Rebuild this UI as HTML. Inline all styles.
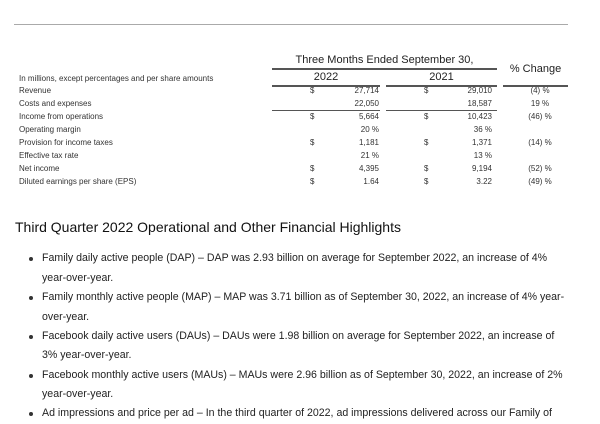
<!DOCTYPE html>
<html><head><meta charset="utf-8"><style>
*{margin:0;padding:0}
body{width:600px;height:414px;overflow:hidden;background:#fff;font-family:"Liberation Sans",sans-serif;color:#222;position:relative}
.a{position:absolute;white-space:nowrap}
.s{font-size:8px;color:#333}
.r{text-align:right}
.c{text-align:center}
.ln{position:absolute;height:1px;background:#555}
.b{position:absolute;left:42px;font-size:10.6px;line-height:19.5px;color:#222;white-space:nowrap}
.d{position:absolute;left:29px;width:4px;height:4px;border-radius:50%;background:#333}
</style></head><body>
<div class="ln" style="left:14px;top:24px;width:554px;background:#aaa"></div>
<div class="a c" style="left:272px;width:225px;top:54px;font-size:11px">Three Months Ended September 30,</div>
<div class="ln" style="left:272px;top:68px;width:225px;height:1.5px"></div>
<div class="a c" style="left:503px;width:65px;top:63px;font-size:11px">% Change</div>
<div class="a c" style="left:272px;width:108px;top:71px;font-size:11px">2022</div>
<div class="a c" style="left:386px;width:111px;top:71px;font-size:11px">2021</div>
<div class="ln" style="left:272px;top:85px;width:108px;height:1.5px"></div>
<div class="ln" style="left:386px;top:85px;width:111px;height:1.5px"></div>
<div class="ln" style="left:503px;top:85px;width:65px;height:1.5px"></div>
<div class="a s" style="left:19px;top:74px">In millions, except percentages and per share amounts</div>
<div class="ln" style="left:272px;top:110px;width:108px"></div>
<div class="ln" style="left:386px;top:110px;width:111px"></div>
<div id="rows"></div>
<div class="a s" style="left:19px;top:86px">Revenue</div><div class="a s" style="left:310px;top:86px">$</div><div class="a s r" style="left:320px;width:59px;top:86px">27,714</div><div class="a s" style="left:424px;top:86px">$</div><div class="a s r" style="left:430px;width:62px;top:86px">29,010</div><div class="a s c" style="left:510px;width:60px;top:86px">(4) %</div>
<div class="a s" style="left:19px;top:99px">Costs and expenses</div><div class="a s r" style="left:320px;width:59px;top:99px">22,050</div><div class="a s r" style="left:430px;width:62px;top:99px">18,587</div><div class="a s c" style="left:510px;width:60px;top:99px">19 %</div>
<div class="a s" style="left:19px;top:112px">Income from operations</div><div class="a s" style="left:310px;top:112px">$</div><div class="a s r" style="left:320px;width:59px;top:112px">5,664</div><div class="a s" style="left:424px;top:112px">$</div><div class="a s r" style="left:430px;width:62px;top:112px">10,423</div><div class="a s c" style="left:510px;width:60px;top:112px">(46) %</div>
<div class="a s" style="left:19px;top:125px">Operating margin</div><div class="a s r" style="left:320px;width:59px;top:125px">20 %</div><div class="a s r" style="left:430px;width:62px;top:125px">36 %</div>
<div class="a s" style="left:19px;top:138px">Provision for income taxes</div><div class="a s" style="left:310px;top:138px">$</div><div class="a s r" style="left:320px;width:59px;top:138px">1,181</div><div class="a s" style="left:424px;top:138px">$</div><div class="a s r" style="left:430px;width:62px;top:138px">1,371</div><div class="a s c" style="left:510px;width:60px;top:138px">(14) %</div>
<div class="a s" style="left:19px;top:151px">Effective tax rate</div><div class="a s r" style="left:320px;width:59px;top:151px">21 %</div><div class="a s r" style="left:430px;width:62px;top:151px">13 %</div>
<div class="a s" style="left:19px;top:164px">Net income</div><div class="a s" style="left:310px;top:164px">$</div><div class="a s r" style="left:320px;width:59px;top:164px">4,395</div><div class="a s" style="left:424px;top:164px">$</div><div class="a s r" style="left:430px;width:62px;top:164px">9,194</div><div class="a s c" style="left:510px;width:60px;top:164px">(52) %</div>
<div class="a s" style="left:19px;top:177px">Diluted earnings per share (EPS)</div><div class="a s" style="left:310px;top:177px">$</div><div class="a s r" style="left:320px;width:59px;top:177px">1.64</div><div class="a s" style="left:424px;top:177px">$</div><div class="a s r" style="left:430px;width:62px;top:177px">3.22</div><div class="a s c" style="left:510px;width:60px;top:177px">(49) %</div>

<div class="a" style="left:15px;top:219px;font-size:14px;color:#111">Third Quarter 2022 Operational and Other Financial Highlights</div>

<div class="d" style="top:257px"></div><div class="b" style="top:249px">Family daily active people (DAP) – DAP was 2.93 billion on average for September 2022, an increase of 4%</div>
<div class="b" style="top:268.5px">year-over-year.</div>
<div class="d" style="top:296px"></div><div class="b" style="top:288px">Family monthly active people (MAP) – MAP was 3.71 billion as of September 30, 2022, an increase of 4% year-</div>
<div class="b" style="top:307.5px">over-year.</div>
<div class="d" style="top:335px"></div><div class="b" style="top:327px">Facebook daily active users (DAUs) – DAUs were 1.98 billion on average for September 2022, an increase of</div>
<div class="b" style="top:346px">3% year-over-year.</div>
<div class="d" style="top:374px"></div><div class="b" style="top:366px">Facebook monthly active users (MAUs) – MAUs were 2.96 billion as of September 30, 2022, an increase of 2%</div>
<div class="b" style="top:385px">year-over-year.</div>
<div class="d" style="top:412px"></div><div class="b" style="top:404px">Ad impressions and price per ad – In the third quarter of 2022, ad impressions delivered across our Family of</div>
</body></html>
